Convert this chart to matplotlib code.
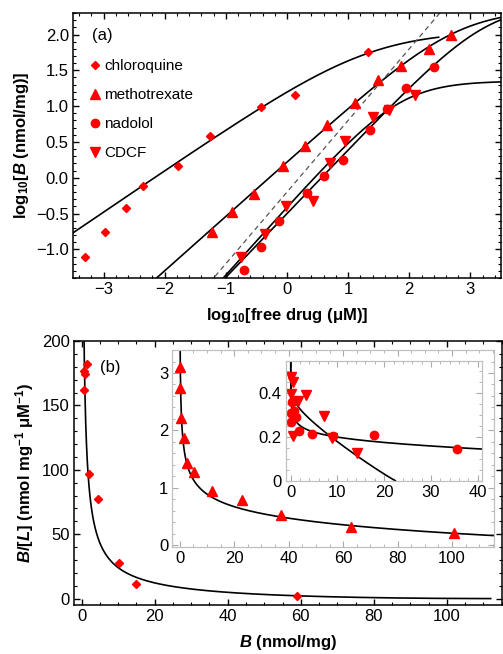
import numpy as np
import matplotlib
matplotlib.use('Agg')
import matplotlib.pyplot as plt
from matplotlib.ticker import MultipleLocator, FuncFormatter

plt.rcParams['font.family'] = ['Liberation Sans', 'DejaVu Sans']
plt.rcParams['mathtext.fontset'] = 'custom'
plt.rcParams['mathtext.rm'] = 'Liberation Sans'
plt.rcParams['mathtext.it'] = 'Liberation Sans:italic'
plt.rcParams['mathtext.bf'] = 'Liberation Sans:bold'
plt.rcParams['mathtext.bfit'] = 'Liberation Sans:italic:bold'

# (a) log10 free drug (uM) vs log10 bound (nmol/mg)
chq_logL = [-3.30, -2.98, -2.64, -2.35, -1.78, -1.26, -0.43, 0.13, 1.32]
chq_logB = [-1.11, -0.76, -0.42, -0.12, 0.16, 0.58, 0.99, 1.16, 1.76]
mtx_logL = [-1.23, -0.90, -0.54, -0.06, 0.30, 0.65, 1.11, 1.49, 1.87, 2.32, 2.68]
mtx_logB = [-0.76, -0.48, -0.23, 0.17, 0.45, 0.74, 1.05, 1.36, 1.56, 1.80, 2.00]
nad_logL = [-0.70, -0.43, -0.13, 0.32, 0.61, 0.92, 1.36, 1.64, 1.95, 2.40]
nad_logB = [-1.29, -0.97, -0.61, -0.21, 0.03, 0.25, 0.66, 0.96, 1.26, 1.55]
cdcf_logL = [-0.75, -0.36, -0.02, 0.42, 0.70, 0.95, 1.40, 1.67, 2.10]
cdcf_logB = [-1.10, -0.78, -0.40, -0.32, 0.21, 0.51, 0.85, 0.95, 1.16]

# (b) Scatchard: bound B vs B/[L]
chq_B = [0.6, 0.6, 0.9, 1.4, 2.1, 4.5, 10.3, 15.0, 58.9]
chq_BL = [162, 177, 174.5, 182, 97, 77, 27.8, 11, 2.3]
mtx_B = [0.12, 0.24, 0.5, 1.5, 2.8, 5.4, 11.8, 23.0, 37.1, 62.8, 100.7]
mtx_BL = [3.11, 2.74, 2.22, 1.86, 1.44, 1.28, 0.95, 0.79, 0.52, 0.32, 0.22]
nad_B = [0.05, 0.11, 0.25, 0.62, 1.07, 1.78, 4.6, 9.0, 17.8, 35.5]
nad_BL = [0.266, 0.309, 0.356, 0.318, 0.29, 0.226, 0.212, 0.203, 0.209, 0.143]
cdcf_B = [0.08, 0.17, 0.40, 0.48, 1.62, 3.3, 7.2, 8.9, 14.2]
cdcf_BL = [0.469, 0.394, 0.447, 0.203, 0.364, 0.388, 0.296, 0.196, 0.125]

# Sips isotherm fits: log10 Bmax, heterogeneity n, log10 (1/K)
fit_chq = (2.05, 0.58, 1.36)
fit_mtx = (2.35, 0.76, 2.80)
fit_nad = (2.42, 0.89, 3.28)
fit_cdcf = (1.35, 0.95, 1.85)
unity_offset = -0.20   # dashed slope-1 reference line


def sips_logB(logL, logBmax, n, x0):
    u = n * (logL - x0)
    return logBmax + u - np.log10(1 + 10 ** u)


def scatchard(params):
    logL = np.linspace(-9, 6, 4000)
    B = 10 ** sips_logB(logL, *params)
    return B, B / 10 ** logL


def style_main(ax):
    ax.tick_params(which='both', direction='in', top=True, right=True,
                   labelsize=12, colors='black', pad=3)
    ax.tick_params(which='major', length=4.5, width=1.0)
    ax.tick_params(which='minor', length=2.5, width=0.8)
    for s in ax.spines.values():
        s.set_linewidth(1.1)


def style_inset(ax):
    ax.tick_params(which='both', direction='in', top=True, right=True,
                   labelsize=12, color='#aaaaaa', labelcolor='black', pad=3)
    ax.tick_params(which='major', length=4, width=0.8)
    ax.tick_params(which='minor', length=2, width=0.6)
    for s in ax.spines.values():
        s.set_color('#c0c0c0')
        s.set_linewidth(0.9)


red = '#ff0000'
fig = plt.figure(figsize=(5.03, 6.54), dpi=100)

# ---- panel (a)
ax1 = fig.add_axes([0.1451, 0.5749, 0.8509, 0.4052])
xx = np.linspace(-3.5, 3.5, 400)
xc = np.linspace(-3.5, 2.48, 400)
ax1.plot(xc, sips_logB(xc, *fit_chq), color='k', lw=1.2)
ax1.plot(xx, sips_logB(xx, *fit_mtx), color='k', lw=1.2)
ax1.plot(xx, sips_logB(xx, *fit_nad), color='k', lw=1.2)
ax1.plot(xx, sips_logB(xx, *fit_cdcf), color='k', lw=1.2)
ax1.plot(xx, xx + unity_offset, color='#555555', lw=0.9, ls=(0, (4, 3)))

ax1.plot(chq_logL, chq_logB, 'D', color=red, ms=4.5, label='chloroquine')
ax1.plot(mtx_logL, mtx_logB, '^', color=red, ms=6.5, label='methotrexate')
ax1.plot(nad_logL, nad_logB, 'o', color=red, ms=6, label='nadolol')
ax1.plot(cdcf_logL, cdcf_logB, 'v', color=red, ms=6.5, label='CDCF')

ax1.set_xlim(-3.5, 3.5)
ax1.set_ylim(-1.4, 2.3)
ax1.xaxis.set_major_locator(MultipleLocator(1))
ax1.xaxis.set_minor_locator(MultipleLocator(0.2))
ax1.yaxis.set_major_locator(MultipleLocator(0.5))
ax1.yaxis.set_minor_locator(MultipleLocator(0.1))
style_main(ax1)
ax1.set_xlabel(r'$\mathbf{log_{10}[free\ drug\ (\mu M)]}$', fontsize=12, labelpad=6)
ax1.set_ylabel(r'$\mathbf{log_{10}[\mathbfit{B}\ (nmol/mg)]}$', fontsize=12, labelpad=4)
ax1.text(0.068, 0.917, '(a)', transform=ax1.transAxes, fontsize=12, ha='center', va='center')
ax1.legend(loc='upper left', bbox_to_anchor=(0.016, 0.865), frameon=False, fontsize=11,
           handlelength=0.6, handletextpad=0.3, labelspacing=0.97, borderaxespad=0.3)

# ---- panel (b)
ax2 = fig.add_axes([0.1471, 0.0749, 0.8503, 0.4037])
B, BL = scatchard(fit_chq)
ax2.plot(B, BL, color='k', lw=1.2)
ax2.plot(chq_B, chq_BL, 'D', color=red, ms=4.5)
ax2.set_xlim(-2.1, 115)
ax2.set_ylim(-5, 200)
ax2.xaxis.set_major_locator(MultipleLocator(20))
ax2.xaxis.set_minor_locator(MultipleLocator(5))
ax2.yaxis.set_major_locator(MultipleLocator(50))
ax2.yaxis.set_minor_locator(MultipleLocator(10))
style_main(ax2)
ax2.set_xlabel(r'$\mathbf{\mathbfit{B}\ (nmol/mg)}$', fontsize=12, labelpad=6)
ax2.set_ylabel(r'$\mathbf{\mathbfit{B}/[\mathbfit{L}]\ (nmol\ mg^{-1}\ \mu M^{-1})}$', fontsize=12, labelpad=4)
ax2.text(0.084, 0.898, '(b)', transform=ax2.transAxes, fontsize=12, ha='center', va='center')

# methotrexate inset
ins1 = fig.add_axes([0.3426, 0.1636, 0.6396, 0.3012])
B, BL = scatchard(fit_mtx)
ins1.plot(B, BL, color='k', lw=1.2)
ins1.plot(mtx_B, mtx_BL, '^', color=red, ms=6.5)
ins1.set_xlim(-2.7, 115.4)
ins1.set_ylim(-0.03, 3.4)
ins1.xaxis.set_major_locator(MultipleLocator(20))
ins1.xaxis.set_minor_locator(MultipleLocator(5))
ins1.yaxis.set_major_locator(MultipleLocator(1))
ins1.yaxis.set_minor_locator(MultipleLocator(0.2))
style_inset(ins1)

# nadolol / CDCF inset
ins2 = fig.add_axes([0.5686, 0.265, 0.3903, 0.1835])
B, BL = scatchard(fit_nad)
ins2.plot(B, BL, color='k', lw=1.2)
B, BL = scatchard(fit_cdcf)
ins2.plot(B, BL, color='k', lw=1.2)
ins2.plot(nad_B, nad_BL, 'o', color=red, ms=6)
ins2.plot(cdcf_B, cdcf_BL, 'v', color=red, ms=6.5)
ins2.set_xlim(-1, 41)
ins2.set_ylim(0, 0.545)
ins2.xaxis.set_major_locator(MultipleLocator(10))
ins2.xaxis.set_minor_locator(MultipleLocator(2))
ins2.yaxis.set_major_locator(MultipleLocator(0.2))
ins2.yaxis.set_minor_locator(MultipleLocator(0.05))
ins2.yaxis.set_major_formatter(FuncFormatter(lambda v, _: '0' if abs(v) < 1e-9 else f'{v:.1f}'))
style_inset(ins2)

fig.savefig('out.png', dpi=100)
